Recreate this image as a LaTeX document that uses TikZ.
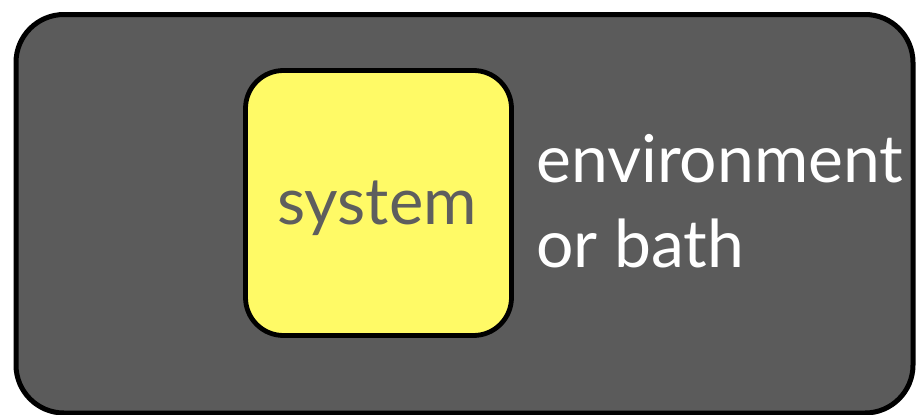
\documentclass[tikz,border=0pt]{standalone}
\usepackage{fontspec}
\setmainfont{Lato}
\definecolor{bathgray}{HTML}{5B5B5B}
\definecolor{sysyellow}{HTML}{FFFA66}
\definecolor{systext}{HTML}{5E5E5E}
\tikzset{
  bathbox/.style={draw=black,line width=5pt,fill=bathgray,rounded corners=48pt},
  sysbox/.style={draw=black,line width=4.8pt,fill=sysyellow,rounded corners=38pt,
    minimum width=266pt,minimum height=265pt,inner sep=0pt,text=systext},
}
\begin{document}
\begin{tikzpicture}[x=1pt,y=-1pt]
\useasboundingbox (0,0) rectangle (916,415);
\draw[bathbox] (16,14.5) rectangle (913,413);
\node[sysbox,font=\fontsize{65}{70}\selectfont,text depth=0pt,text height=0pt] at (378.5,203) (sys) {};
\node[text=systext,font=\fontsize{65}{70}\selectfont,anchor=base,inner sep=0pt] at (377,224) (syslbl) {system};
\node[anchor=base west,inner sep=0pt,align=left,text=white,
  font=\fontsize{66}{85}\selectfont] at (536,267) (env) {environment\\or bath};
\end{tikzpicture}
\end{document}
